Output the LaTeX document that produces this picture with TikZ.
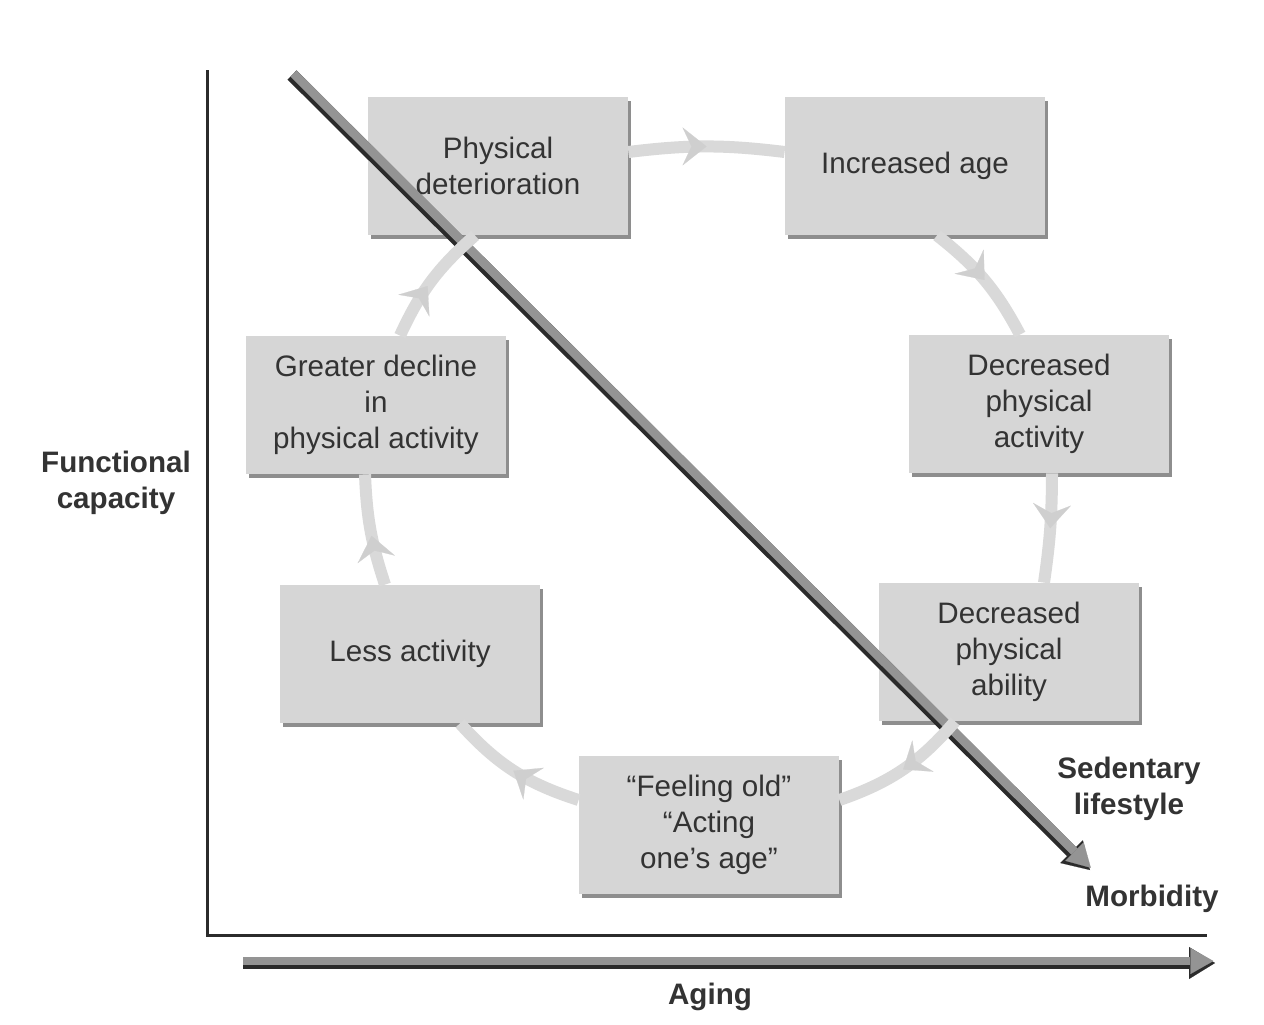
\documentclass[tikz,border=0pt]{standalone}
\usepackage{fontspec}
\setmainfont{Liberation Sans}
\usetikzlibrary{arrows.meta,decorations.markings,shadows}
\definecolor{boxfill}{HTML}{D6D6D6}
\definecolor{boxshadow}{HTML}{8E8E8E}
\definecolor{linkcol}{HTML}{D9D9D9}
\definecolor{tipcol}{HTML}{CFCFCF}
\definecolor{txt}{HTML}{333333}
\definecolor{darkedge}{HTML}{2B2B2B}
\definecolor{arrgray}{HTML}{949494}
\begin{document}
\begin{tikzpicture}[x=0.5pt,y=0.5pt,
  cyclebox/.style={fill=boxfill, draw=none, minimum width=130pt, minimum height=69pt,
    align=center, text=txt, font=\fontsize{14.8}{18}\selectfont, inner sep=2pt,
    drop shadow={shadow xshift=1.5pt, shadow yshift=-1.8pt, fill=boxshadow, opacity=1}},
  link/.style={draw=linkcol, line width=6pt, postaction={decorate},
    decoration={markings, mark=at position #1 with {\arrow[tipcol]{Stealth[length=12pt,width=19pt,inset=4.5pt,line width=0.1pt]}}}},
  link/.default=0.5,
  axislabel/.style={font=\fontsize{14.8}{18}\selectfont\bfseries, text=txt, align=center},
  bigarrowdark/.style={draw=darkedge, line width=6.4pt, -{Triangle[length=13pt,width=16pt,line width=0.1pt]}},
  bigarrowgray/.style={draw=arrgray, line width=4.4pt, -{Triangle[length=11.5pt,width=13pt,line width=0.1pt]}},
]
\useasboundingbox (0,0) rectangle (1264,-1024);
\fill[white] (0,0) rectangle (1264,-1024);

% axes
\coordinate (ytop) at (207,-70);
\coordinate (origin) at (207,-935);
\coordinate (xend) at (1207,-935);
\draw[darkedge, line width=1.5pt] (ytop) -- (origin) -- (xend);

% boxes
\node[cyclebox] (pd) at (498,-166) {Physical\\deterioration};
\node[cyclebox] (ia) at (915,-166) {Increased age};
\node[cyclebox] (dpa) at (1039,-404) {Decreased\\physical\\activity};
\node[cyclebox] (dpb) at (1009,-652) {Decreased\\physical\\ability};
\node[cyclebox] (fo) at (709,-825) {“Feeling old”\\“Acting\\one’s age”};
\node[cyclebox] (la) at (410,-654) {Less activity};
\node[cyclebox] (gd) at (376,-405) {Greater decline\\in\\physical activity};

% diagonal arrow
\coordinate (dS) at (292,-75);
\coordinate (dE) at (1090,-870);
\draw[bigarrowdark] (dS) -- (dE);
\draw[bigarrowgray] ([shift={(0.75pt,0.75pt)}]dS) -- ([shift={(0.4pt,1.1pt)}]dE);

% cycle connectors
\draw[link] ([yshift=7pt]pd.east) to[bend left=7] ([yshift=7pt]ia.west);
\draw[link] ([xshift=11pt]ia.south) to[bend left=12] ([xshift=-9.5pt]dpa.north);
\draw[link] ([xshift=6.5pt]dpa.south) to[bend left=4] ([xshift=17.5pt]dpb.north);
\draw[link] ([xshift=-27pt]dpb.south) to[bend left=15] ([yshift=12.5pt]fo.east);
\draw[link] ([yshift=12.5pt]fo.west) to[bend left=15] ([xshift=25pt]la.south);
\draw[link=0.45] ([xshift=-12.5pt]la.north) to[bend left=8] ([xshift=-5.5pt]gd.south);
\draw[link=0.45] ([xshift=12pt]gd.north) to[bend left=12] ([xshift=-11.5pt]pd.south);

% labels
\node[axislabel] (fc) at (116,-483) {Functional\\capacity};
\node[axislabel] (sl) at (1129,-789) {Sedentary\\lifestyle};
\node[axislabel] (mb) at (1152,-899) {Morbidity};
\node[axislabel] (ag) at (710,-997) {Aging};

% aging arrow
\coordinate (agS) at (243,-963);
\coordinate (agE) at (1215,-963);
\draw[bigarrowdark] (agS) -- (agE);
\draw[bigarrowgray] ([yshift=1pt]agS) -- ([shift={(-0.8pt,1pt)}]agE);
\end{tikzpicture}
\end{document}
